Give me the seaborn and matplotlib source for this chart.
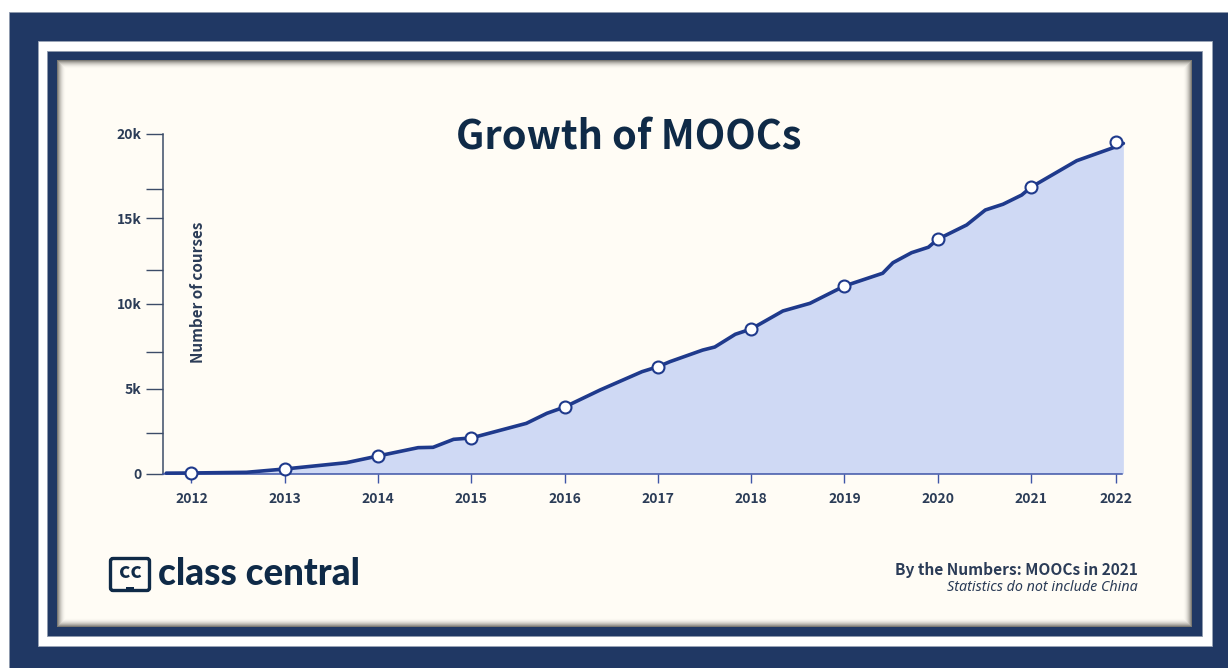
import numpy as np
import pandas as pd
import matplotlib
matplotlib.use("Agg")
import matplotlib.pyplot as plt
from matplotlib.patches import FancyBboxPatch, Rectangle
import seaborn as sns

# ---------- data ----------
line_years = [2011.73, 2012.0, 2012.59, 2013.0, 2013.66, 2014.0, 2014.43, 2014.59, 2014.81, 2015.0,
              2015.59, 2015.81, 2016.0, 2016.38, 2016.83, 2017.0, 2017.13, 2017.48, 2017.61, 2017.83,
              2018.0, 2018.34, 2018.63, 2019.0, 2019.41, 2019.52, 2019.72, 2019.9, 2020.0, 2020.31,
              2020.51, 2020.7, 2020.9, 2021.0, 2021.49, 2021.91, 2021.99]
line_courses = [20, 30, 70, 265, 635, 1030, 1520, 1540, 2010, 2090,
                2950, 3540, 3910, 4910, 5990, 6280, 6580, 7260, 7440, 8190,
                8500, 9560, 10010, 11030, 11780, 12400, 12990, 13310, 13780, 14620,
                15500, 15840, 16380, 16840, 18400, 19220, 19420]
marker_years = [2012, 2013, 2014, 2015, 2016, 2017, 2018, 2019, 2020, 2021, 2021.91]
marker_courses = [30, 265, 1030, 2090, 3910, 6280, 8500, 11030, 13780, 16840, 19520]
x_tick_labels = ["2012", "2013", "2014", "2015", "2016", "2017", "2018", "2019", "2020", "2021", "2022"]
y_major = [0, 5000, 10000, 15000, 20000]
y_major_labels = ["0", "5k", "10k", "15k", "20k"]
y_minor = [2380, 7150, 11970, 16750]

TITLE = "Growth of MOOCs"
Y_LABEL = "Number of courses"
BRAND = "class central"
SOURCE = "By the Numbers: MOOCs in 2021"
NOTE = "Statistics do not include China"

# ---------- style ----------
W, H = 1228, 668
NAVY = "#203864"
CREAM = "#FFFCF5"
FILL = "#CFD9F4"
LINE = "#1F3A8C"
INK = "#0F2A47"
LABEL = "#2B3C57"
BOLD = ["Noto Sans CJK SC", "DejaVu Sans"]
sns.set_theme(style="white")
plt.rcParams["font.family"] = BOLD

fig = plt.figure(figsize=(W / 100, H / 100), dpi=100, facecolor="white")

# frame drawn in pixel coordinates
bg = fig.add_axes([0, 0, 1, 1], zorder=0)
bg.set_xlim(0, W)
bg.set_ylim(H, 0)
bg.axis("off")
bg.add_patch(Rectangle((8.5, 12), W, H, fc=NAVY, ec="#8d99ad", lw=0.6))
bg.add_patch(Rectangle((37.5, 41), 1174.5, 605, fc="white", ec="#9aa5b8", lw=0.6))
bg.add_patch(Rectangle((47, 50.5), 1155, 585.5, fc=NAVY, ec="#8d99ad", lw=0.6))

# cream panel with soft inner shadow
px0, py0, px1, py1 = 57, 60, 1192, 627
xx, yy = np.meshgrid(np.arange(px0, px1) + 0.5, np.arange(py0, py1) + 0.5)
d = np.minimum.reduce([xx - px0, px1 - xx, yy - py0, py1 - yy])
shade = np.clip(1 - d / 9, 0, 1) ** 2 * 0.8
cream_rgb = np.array(matplotlib.colors.to_rgb(CREAM))
dark = np.array([0.28, 0.27, 0.25])
img = cream_rgb[None, None, :] * (1 - shade[..., None]) + dark[None, None, :] * shade[..., None]
bg.imshow(img, extent=(px0, px1, py1, py0), interpolation="bilinear", aspect="auto", zorder=2)
bg.set_xlim(0, W)
bg.set_ylim(H, 0)

# logo
bg.add_patch(FancyBboxPatch((110.5, 558.5), 39, 32, boxstyle="round,pad=0,rounding_size=2.5",
                            fc="none", ec=INK, lw=2.4, zorder=3))
bg.add_patch(Rectangle((126, 586.5), 8, 3.5, fc=INK, ec="none", zorder=3))
bg.text(130, 572, "cc", color=INK, fontsize=15.5, fontweight="bold", ha="center", va="center", zorder=3)
bg.text(158, 574, BRAND, color=INK, fontsize=26.5, fontweight="black", ha="left", va="center",
        family=["Lato", "DejaVu Sans"], zorder=3)

# footer
bg.text(1138, 570.5, SOURCE, color=LABEL, fontsize=11.15, fontweight="bold", ha="right", va="center", zorder=3)
bg.text(1138, 587.5, NOTE, color=LABEL, fontsize=10.3, style="italic", ha="right", va="center",
        family=["Noto Sans", "DejaVu Sans"], zorder=3)

# title and axis title
bg.text(629, 138, TITLE, color=INK, fontsize=28.6, fontweight="bold", ha="center", va="center", zorder=3)
bg.text(198, 292, Y_LABEL, color=LABEL, fontsize=11, fontweight="bold", rotation=90,
        ha="center", va="center", zorder=6)

# chart
ax = fig.add_axes([163 / W, 1 - 473.5 / H, (1124 - 163) / W, 340 / H], zorder=5)
ax.patch.set_alpha(0)
line_df = pd.DataFrame({"year": line_years, "courses": line_courses})
marker_df = pd.DataFrame({"year": marker_years, "courses": marker_courses})

ax.fill_between(line_df["year"], line_df["courses"], 0, color=FILL, lw=0, zorder=1)
sns.lineplot(data=line_df, x="year", y="courses", ax=ax, color=LINE, lw=2.6, zorder=3,
             estimator=None, sort=False, clip_on=False)
sns.scatterplot(data=marker_df, x="year", y="courses", ax=ax, s=74, color="white", edgecolor=LINE,
                linewidth=1.5, zorder=4, clip_on=False, legend=False)

ax.set_xlim(2011.695, 2012 + (1124 - 191.5) / 93.28)
ax.set_ylim(0, 20000)
ax.set_xlabel("")
ax.set_ylabel("")
ax.set_xticks(marker_years, labels=x_tick_labels)
ax.set_yticks(y_major, labels=y_major_labels)
ax.set_yticks(y_minor, minor=True)
ax.tick_params(axis="x", which="major", length=6.5, width=1.0, color="#3F55A8", pad=6.5,
               labelsize=10, labelcolor=LABEL, bottom=True)
ax.tick_params(axis="y", which="both", length=12, width=1.0, color="#3C4C68", pad=3.5,
               labelsize=10, labelcolor=LABEL, left=True)
for t in ax.get_xticklabels() + ax.get_yticklabels():
    t.set_fontweight("bold")
for s in ["top", "right"]:
    ax.spines[s].set_visible(False)
ax.spines["left"].set_color("#3C4C68")
ax.spines["left"].set_linewidth(1.1)
ax.spines["bottom"].set_color("#3F55A8")
ax.spines["bottom"].set_linewidth(1.1)
ax.spines["bottom"].set_bounds(2011.695, 2021.97)

fig.savefig("out.png", dpi=100)
